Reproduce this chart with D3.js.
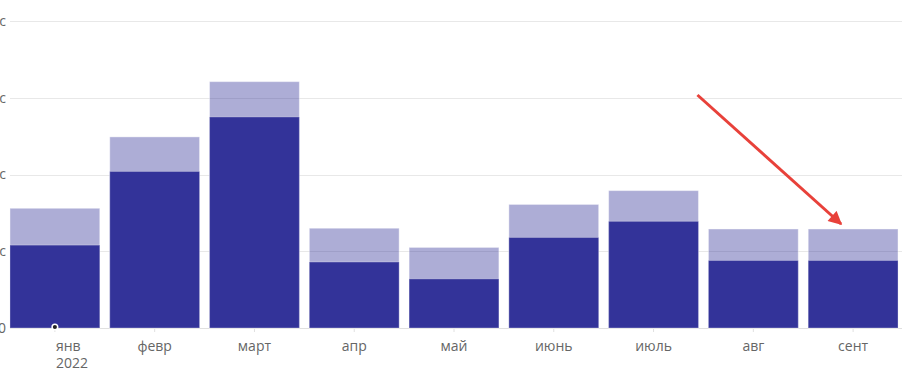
<!DOCTYPE html>
<html>
<head>
<meta charset="utf-8">
<script src="https://cdn.jsdelivr.net/npm/d3@7"></script>
<style>
  html, body { margin: 0; padding: 0; background: #fff; overflow: hidden; }
  svg { display: block; font-family: "Open Sans", sans-serif; }
</style>
</head>
<body>
<svg id="chart" width="902" height="381"></svg>
<script>
const months = ["янв", "февр", "март", "апр", "май", "июнь", "июль", "авг", "сент"];
const yearLabel = "2022";
const totalValues = [15600, 24900, 32100, 13000, 10500, 16100, 17900, 12900, 12900];
const partValues  = [10800, 20400, 27500, 8600, 6400, 11800, 13900, 8800, 8800];
const yTicks = [0, 10000, 20000, 30000, 40000];
const yTickLabels = ["0", "10 тыс", "20 тыс", "30 тыс", "40 тыс"];

const svg = d3.select("#chart");
const W = 902, H = 381;

const x = d3.scaleBand().domain(months).range([5, 903]).paddingInner(0.1).paddingOuter(0.05);
const y = d3.scaleLinear().domain([0, 40000]).range([328, 21]);

// grid lines
svg.append("g").selectAll("line").data(yTicks.slice(1)).join("line")
  .attr("x1", 10).attr("x2", W).attr("y1", d => Math.round(y(d)) + 0.5).attr("y2", d => Math.round(y(d)) + 0.5)
  .attr("stroke", "#e8e8e8").attr("stroke-width", 1);

// y labels (cut off at left edge, as in the reference)
svg.append("g").selectAll("text").data(yTicks).join("text")
  .attr("x", 6).attr("y", d => y(d)).attr("dy", "0.35em")
  .attr("text-anchor", "end").attr("font-size", 14).attr("fill", "#666")
  .text((d, i) => yTickLabels[i]);

// baseline axis
const xAxis = d3.axisBottom(x).tickSize(4).tickSizeOuter(0).tickFormat(() => "");
const ax = svg.append("g").attr("transform", "translate(0,328)").call(xAxis);
ax.select(".domain").attr("d", `M10,0.5H${W}`).attr("stroke", "#e0e0e0");
ax.selectAll(".tick line").attr("stroke", "#e0e0e0").attr("y1", 1);

// total bars (light)
svg.append("g").selectAll("rect").data(months).join("rect")
  .attr("x", d => x(d)).attr("width", x.bandwidth())
  .attr("y", (d, i) => y(totalValues[i])).attr("height", (d, i) => y(0) - y(totalValues[i]))
  .attr("fill", "#333399").attr("fill-opacity", 0.4)
  .attr("stroke", "#ffffff").attr("stroke-opacity", 0.4).attr("stroke-width", 1);

// part bars (dark)
svg.append("g").selectAll("rect").data(months).join("rect")
  .attr("x", d => x(d)).attr("width", x.bandwidth())
  .attr("y", (d, i) => y(partValues[i])).attr("height", (d, i) => y(0) - y(partValues[i]))
  .attr("fill", "#333399")
  .attr("stroke", "#ffffff").attr("stroke-opacity", 0.3).attr("stroke-width", 1);

// x labels
const lab = svg.append("g");
lab.selectAll("text.m").data(months.slice(1)).join("text").attr("class", "m")
  .attr("x", d => x(d) + x.bandwidth() / 2).attr("y", 351)
  .attr("text-anchor", "middle").attr("font-size", 14).attr("fill", "#666")
  .text(d => d);
const first = lab.append("text")
  .attr("x", x(months[0]) + x.bandwidth() / 2 + 1).attr("y", 351)
  .attr("text-anchor", "start").attr("font-size", 14).attr("fill", "#666");
first.append("tspan").text(months[0]);
first.append("tspan").attr("x", x(months[0]) + x.bandwidth() / 2 + 1).attr("dy", 17).text(yearLabel);

// dot at first month baseline
svg.append("circle")
  .attr("cx", x(months[0]) + x.bandwidth() / 2).attr("cy", 327).attr("r", 2.8)
  .attr("fill", "#222").attr("stroke", "#fff").attr("stroke-width", 1.5);

// red arrow annotation
const defs = svg.append("defs");
defs.append("marker").attr("id", "ah").attr("viewBox", "0 0 10 10")
  .attr("refX", 9).attr("refY", 5).attr("markerWidth", 5).attr("markerHeight", 4.5)
  .attr("orient", "auto").attr("markerUnits", "strokeWidth")
  .append("path").attr("d", "M0,0 L10,5 L0,10 Z").attr("fill", "#e8413a");
const arrowFrom = months[6], arrowTo = months[8];
svg.append("line")
  .attr("x1", x(arrowFrom) + x.bandwidth() - 1).attr("y1", 95)
  .attr("x2", x(arrowTo) + x.bandwidth() / 2 - 12).attr("y2", 224)
  .attr("stroke", "#e8413a").attr("stroke-width", 3)
  .attr("marker-end", "url(#ah)");
</script>
</body>
</html>
